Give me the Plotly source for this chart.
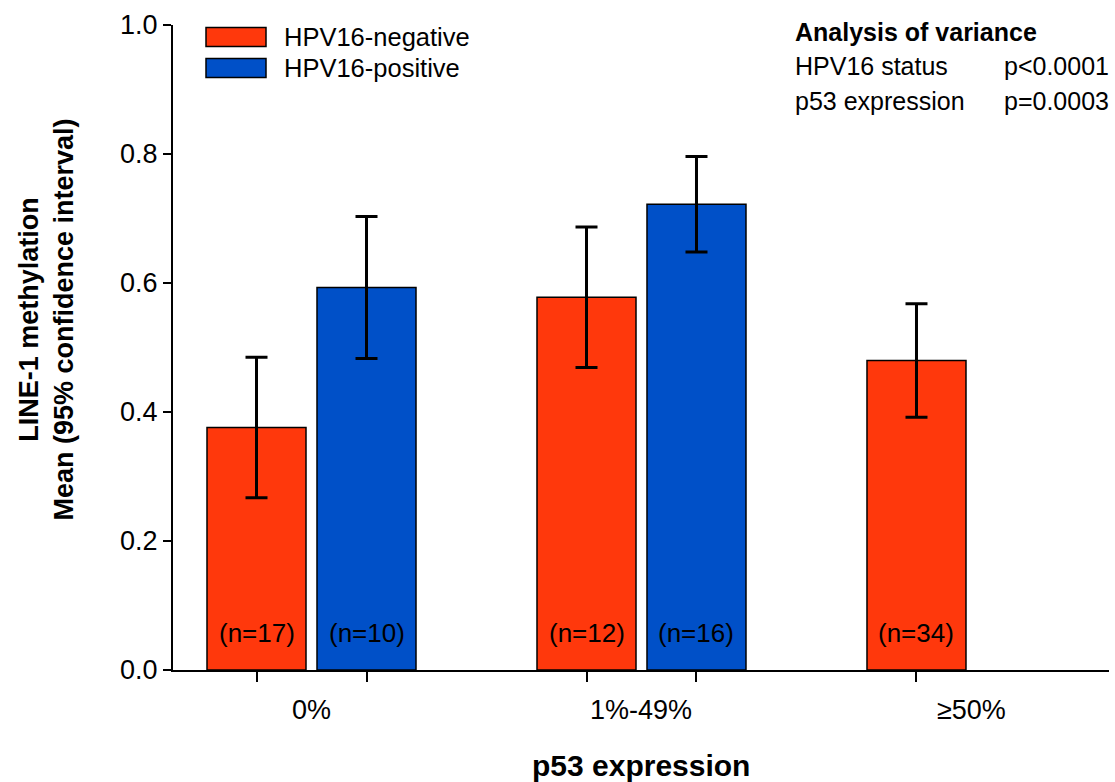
import plotly.graph_objects as go

# p53 expression groups
categories = ["0%", "1%-49%", "≥50%"]

# HPV16-negative: mean LINE-1 methylation and 95% CI half-width, one per group
neg_mean = [0.376, 0.578, 0.480]
neg_ci = [0.109, 0.109, 0.088]
neg_n = [17, 12, 34]

# HPV16-positive (no cases in the >=50% group)
pos_mean = [0.593, 0.722]
pos_ci = [0.110, 0.074]
pos_n = [10, 16]

RED = "#FF380C"
BLUE = "#0050C8"
FONT = "Arial, Liberation Sans, sans-serif"
OFFSET = 1 / 6
BAR_W = 0.3

neg_x = [i - OFFSET for i in range(len(neg_mean))]
pos_x = [i + OFFSET for i in range(len(pos_mean))]

fig = go.Figure()

fig.add_trace(go.Bar(
    x=neg_x, y=neg_mean, width=BAR_W, name="HPV16-negative",
    marker=dict(color=RED, line=dict(color="black", width=1.5)),
    error_y=dict(type="data", array=neg_ci, color="black", thickness=3, width=11),
    showlegend=False,
))
fig.add_trace(go.Bar(
    x=pos_x, y=pos_mean, width=BAR_W, name="HPV16-positive",
    marker=dict(color=BLUE, line=dict(color="black", width=1.5)),
    error_y=dict(type="data", array=pos_ci, color="black", thickness=3, width=11),
    showlegend=False,
))

annotations = []

# sample sizes at the foot of each bar
for xs, ns in ((neg_x, neg_n), (pos_x, pos_n)):
    for x, n in zip(xs, ns):
        annotations.append(dict(
            x=x, y=0, xref="x", yref="y", yshift=37, text=f"(n={n})",
            showarrow=False, font=dict(family=FONT, size=26, color="black"),
            xanchor="center", yanchor="middle",
        ))

# group labels centred under each pair of bars
for i, cat in enumerate(categories):
    annotations.append(dict(
        x=i, y=0, xref="x", yref="paper", yshift=-40, text=cat,
        showarrow=False, font=dict(family=FONT, size=27, color="black"),
        xanchor="center", yanchor="middle",
    ))

# axis titles
annotations.append(dict(
    x=0.5, y=0, xref="paper", yref="paper", yshift=-95,
    text="<b>p53 expression</b>", showarrow=False,
    font=dict(family=FONT, size=30, color="black"),
    xanchor="center", yanchor="middle",
))
annotations.append(dict(
    x=0, y=0.5, xref="paper", yref="paper", xshift=-127, yshift=28,
    text="<b>LINE-1 methylation<br>Mean (95% confidence interval)</b>",
    textangle=-90, showarrow=False,
    font=dict(family=FONT, size=27, color="black"),
    xanchor="center", yanchor="middle",
))

# legend
shapes = []
legend_items = [("HPV16-negative", RED, 37), ("HPV16-positive", BLUE, 68)]
PLOT_L, PLOT_T, PLOT_W, PLOT_H = 173, 25, 936, 645


def px_x(px):
    return (px - PLOT_L) / PLOT_W


def px_y(py):
    return 1 - (py - PLOT_T) / PLOT_H


for label, color, cy in legend_items:
    shapes.append(dict(
        type="rect", xref="paper", yref="paper",
        x0=px_x(206), x1=px_x(266), y0=px_y(cy - 9.5), y1=px_y(cy + 9.5),
        fillcolor=color, line=dict(color="black", width=1.5),
    ))
    annotations.append(dict(
        x=px_x(282), y=px_y(cy), xref="paper", yref="paper", text=label,
        showarrow=False, font=dict(family=FONT, size=25.5, color="black"),
        xanchor="left", yanchor="middle",
    ))

# analysis of variance summary
annotations.append(dict(
    x=px_x(793), y=px_y(32), xref="paper", yref="paper",
    text="<b>Analysis of variance</b>", showarrow=False,
    font=dict(family=FONT, size=25, color="black"),
    xanchor="left", yanchor="middle",
))
for left, right, cy in (("HPV16 status", "p<0.0001", 66), ("p53 expression", "p=0.0003", 101)):
    annotations.append(dict(
        x=px_x(793), y=px_y(cy), xref="paper", yref="paper", text=left,
        showarrow=False, font=dict(family=FONT, size=25, color="black"),
        xanchor="left", yanchor="middle",
    ))
    annotations.append(dict(
        x=px_x(1111), y=px_y(cy), xref="paper", yref="paper", text=right,
        showarrow=False, font=dict(family=FONT, size=25, color="black"),
        xanchor="right", yanchor="middle",
    ))

fig.update_layout(
    width=1115, height=782,
    margin=dict(l=173, r=6, t=25, b=112),
    paper_bgcolor="white", plot_bgcolor="white",
    barmode="overlay",
    font=dict(family=FONT, color="black"),
    annotations=annotations,
    shapes=shapes,
    xaxis=dict(
        range=[-0.4197, 2.4167],
        tickvals=neg_x + pos_x, showticklabels=False,
        ticks="outside", ticklen=10, tickwidth=2, tickcolor="black",
        showline=True, linewidth=2, linecolor="black",
        showgrid=False, zeroline=False, fixedrange=True,
    ),
    yaxis=dict(
        range=[0, 1], tickvals=[0, 0.2, 0.4, 0.6, 0.8, 1.0], tickformat=".1f",
        ticks="outside", ticklen=8, tickwidth=2, tickcolor="black",
        showline=True, linewidth=2, linecolor="black",
        showgrid=False, zeroline=False,
        tickfont=dict(family=FONT, size=27, color="black"),
        fixedrange=True,
    ),
)

fig.write_html("out.html")
